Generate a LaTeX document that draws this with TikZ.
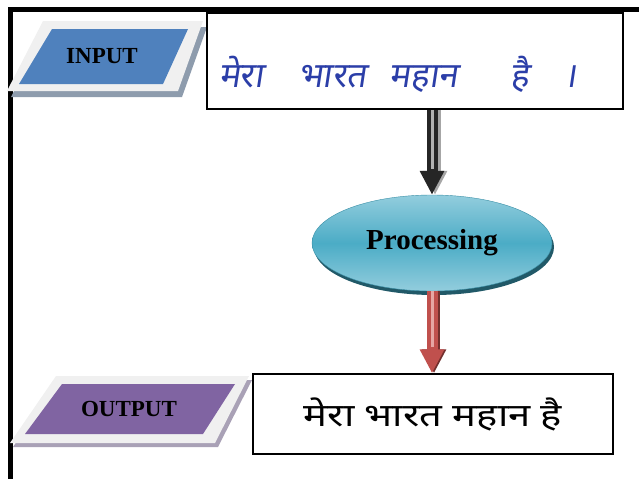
\documentclass[tikz,border=0pt]{standalone}
\usepackage{fontspec}
\setmainfont{Liberation Serif}
\newfontfamily\devafont[Script=Devanagari,FakeStretch=1.25]{Noto Sans}
\newfontfamily\handfont[Script=Devanagari,FakeSlant=0.15]{Noto Sans}
\usetikzlibrary{shapes.geometric,shadows,arrows.meta}

\definecolor{inblue}{HTML}{4F81BD}
\definecolor{inshadow}{HTML}{8E9CAD}
\definecolor{outpurple}{HTML}{8064A2}
\definecolor{outshadow}{HTML}{A9A1B6}
\definecolor{bandgray}{HTML}{F0F0F0}
\definecolor{proclight}{HTML}{93CDDD}
\definecolor{procmid}{HTML}{4BACC6}
\definecolor{procdark}{HTML}{3A8FA6}
\definecolor{procshadow}{HTML}{215968}
\definecolor{inkblue}{HTML}{2B3EA8}
\definecolor{arrred}{HTML}{C0504D}
\definecolor{arrpink}{HTML}{E6A6A4}

\begin{document}
\begin{tikzpicture}[x=1pt, y=-1pt,
    iotext/.style={inner sep=0pt, font=\fontsize{23}{23}\selectfont\bfseries},
    textbox/.style={draw, line width=1.5pt, inner sep=0pt},
    blockarrow/.style={line width=11pt, -{Triangle[width=23pt,length=24pt]}}]
    \useasboundingbox (0,0) rectangle (639,479);

    % Moldura
    \draw[line width=5pt] (8,9.5) -- (639,9.5);
    \draw[line width=5pt] (10.5,7) -- (10.5,479);

    % Entrada
    \fill[inshadow, shift={(4,6)}] (43,21) -- (203,21) -- (178,91) -- (7,91) -- cycle;
    \fill[bandgray] (43,21) -- (203,21) -- (178,91) -- (7,91) -- cycle;
    \fill[inblue] (52,29) -- (188,29) -- (163,84) -- (19,84) -- cycle;
    \node (in) [iotext] at (102,56.5) {INPUT};
    \node (inbox) [textbox, minimum width=416pt, minimum height=96pt, fill=white]
        at (415,61) {};
    \node (hand) at (398,74) {\handfont\fontsize{35}{35}\selectfont\color{inkblue}%
        मेरा\enspace\enspace भारत\enspace\thinspace महान\quad\enspace है\enspace\enspace ।};

    % Processamento
    \node (proc) [ellipse, minimum width=240pt, minimum height=96pt, draw=procdark,
        top color=proclight, bottom color=proclight, middle color=procmid,
        drop shadow={shadow xshift=2pt, shadow yshift=-4pt, fill=procshadow, opacity=1},
        font=\fontsize{29}{29}\selectfont\bfseries]
        at (432,243) {Processing};

    % Saida
    \fill[outshadow, shift={(3,4)}] (56,376) -- (249,376) -- (215,443) -- (10,443) -- cycle;
    \fill[bandgray] (56,376) -- (249,376) -- (215,443) -- (10,443) -- cycle;
    \fill[outpurple] (62,384) -- (235,384) -- (203,434) -- (25,434) -- cycle;
    \node (out) [iotext] at (129,409) {OUTPUT};
    \node (outbox) [textbox, minimum width=360pt, minimum height=80pt]
        at (433,414) {\devafont\fontsize{32}{32}\selectfont मेरा भारत महान है};

    % Setas
    \draw[blockarrow, gray!70, transform canvas={xshift=3pt}]
        (proc.north |- inbox.south) -- (proc.north);
    \draw[blockarrow, black!85] (proc.north |- inbox.south) -- (proc.north);
    \draw[line width=3pt, gray!60, shorten >=26pt] (proc.north |- inbox.south) -- (proc.north);

    \draw[blockarrow, arrred!60!black, transform canvas={xshift=2pt}]
        (proc.south) -- (proc.south |- outbox.north);
    \draw[blockarrow, arrred] (proc.south) -- (proc.south |- outbox.north);
    \draw[line width=3pt, arrpink, shorten >=26pt] (proc.south) -- (proc.south |- outbox.north);
\end{tikzpicture}
\end{document}
